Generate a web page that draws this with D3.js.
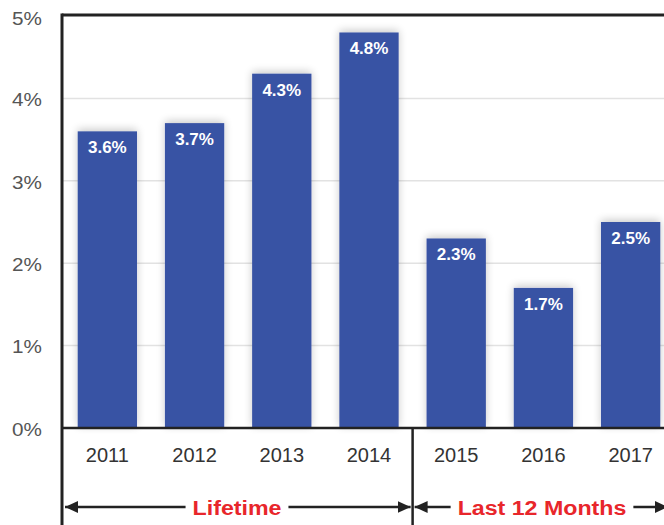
<!DOCTYPE html>
<html><head><meta charset="utf-8">
<script src="https://cdn.jsdelivr.net/npm/d3@7"></script>
<style>body{margin:0;background:#fff}svg{display:block}</style>
</head><body>
<svg id="c" width="664" height="525"></svg>
<script>
const years = ["2011","2012","2013","2014","2015","2016","2017"];
const values = [3.6, 3.7, 4.3, 4.8, 2.3, 1.7, 2.5];
const yTicks = [0, 1, 2, 3, 4, 5];
const groups = [
  {label: "Lifetime", from: "2011", to: "2014"},
  {label: "Last 12 Months", from: "2015", to: "2017"}
];

const FONT = "Liberation Sans, Arial, Helvetica, sans-serif";
const svg = d3.select("#c");
const L = 62, T = 16, B = 428;
const x = d3.scaleBand().domain(years).range([L, 676]).paddingInner(0.32).paddingOuter(0.18);
const y = d3.scaleLinear().domain([0, 5]).range([B, T]);

const defs = svg.append("defs");
const f = defs.append("filter").attr("id","sh").attr("x","-30%").attr("y","-30%").attr("width","160%").attr("height","160%");
f.append("feGaussianBlur").attr("in","SourceAlpha").attr("stdDeviation",4);
f.append("feOffset").attr("dy",-2).attr("result","b");
f.append("feComponentTransfer").append("feFuncA").attr("type","linear").attr("slope",0.22);
const m = f.append("feMerge"); m.append("feMergeNode"); m.append("feMergeNode").attr("in","SourceGraphic");

// gridlines
svg.append("g").selectAll("line").data(yTicks.filter(d => d > 0 && d < 5)).join("line")
  .attr("x1", L).attr("x2", 664).attr("y1", d => y(d)).attr("y2", d => y(d))
  .attr("stroke", "#e2e2e2").attr("stroke-width", 1.5);

// y axis labels
const ya = svg.append("g").attr("transform", `translate(${L},0)`)
  .call(d3.axisLeft(y).tickValues(yTicks).tickFormat(d => d + "%").tickSize(0));
ya.select(".domain").remove();
ya.selectAll("text").attr("x", 0).attr("dy", "0.38em")
  .attr("transform", d => `translate(-20,${d === 5 ? 1.5 : 0.5}) scale(1.15,1)`)
  .attr("font-family", FONT).attr("font-size", 18).attr("fill", "#555");

// bars
svg.append("g").selectAll("rect").data(values).join("rect")
  .attr("x", (d, i) => x(years[i])).attr("width", x.bandwidth())
  .attr("y", d => y(d)).attr("height", d => B - y(d))
  .attr("fill", "#3953a4").attr("filter","url(#sh)");

svg.append("g").selectAll("text").data(values).join("text")
  .attr("x", (d, i) => x(years[i]) + x.bandwidth() / 2)
  .attr("y", d => y(d) + 22)
  .attr("text-anchor", "middle").attr("fill", "#fff")
  .attr("font-family", FONT).attr("font-weight", "bold").attr("font-size", 17)
  .text(d => d.toFixed(1) + "%");

// x axis labels
const xa = svg.append("g").attr("transform", `translate(0,${B})`)
  .call(d3.axisBottom(x).tickSize(0));
xa.select(".domain").remove();
xa.selectAll("text").attr("y", 34).attr("dy", null)
  .attr("font-family", FONT).attr("font-size", 20).attr("fill", "#333");

// frame
svg.append("line").attr("x1", L).attr("x2", 664).attr("y1", 15).attr("y2", 15).attr("stroke", "#222").attr("stroke-width", 3);
svg.append("line").attr("x1", L).attr("x2", L).attr("y1", 13.5).attr("y2", 525).attr("stroke", "#222").attr("stroke-width", 3);
svg.append("line").attr("x1", L).attr("x2", 664).attr("y1", B).attr("y2", B).attr("stroke", "#222").attr("stroke-width", 2.5);

// divider
const divX = (x("2014") + x.bandwidth() + x("2015")) / 2;
svg.append("line").attr("x1", divX).attr("x2", divX).attr("y1", B).attr("y2", 525).attr("stroke", "#222").attr("stroke-width", 2.5);

// group arrows
const ay = 507;
defs.append("marker").attr("id","ah").attr("viewBox","0 0 13 12").attr("refX",13).attr("refY",6)
  .attr("markerWidth",13).attr("markerHeight",12).attr("markerUnits","userSpaceOnUse").attr("orient","auto")
  .append("path").attr("d","M0,0 L13,6 L0,12 z").attr("fill","#222");
const bounds = [[L + 3, divX - 2], [divX + 2, 668]];
const centers = [237, 542];
groups.forEach((g, i) => {
  const [a, b] = bounds[i];
  const cx = centers[i];
  const t = svg.append("text").attr("x", 0).attr("y", 0).attr("text-anchor", "middle")
    .attr("transform", `translate(${cx},${ay + 8}) scale(1.16,1)`)
    .attr("font-family", FONT).attr("font-weight", "bold").attr("font-size", 20)
    .attr("fill", "#e8262b").text(g.label);
  const w = t.node().getComputedTextLength() * 1.16;
  svg.append("line").attr("x1", cx - w / 2 - 7).attr("x2", a).attr("y1", ay).attr("y2", ay)
    .attr("stroke", "#222").attr("stroke-width", 2.5).attr("marker-end", "url(#ah)");
  svg.append("line").attr("x1", cx + w / 2 + 7).attr("x2", b).attr("y1", ay).attr("y2", ay)
    .attr("stroke", "#222").attr("stroke-width", 2.5).attr("marker-end", "url(#ah)");
});
</script>
</body></html>
